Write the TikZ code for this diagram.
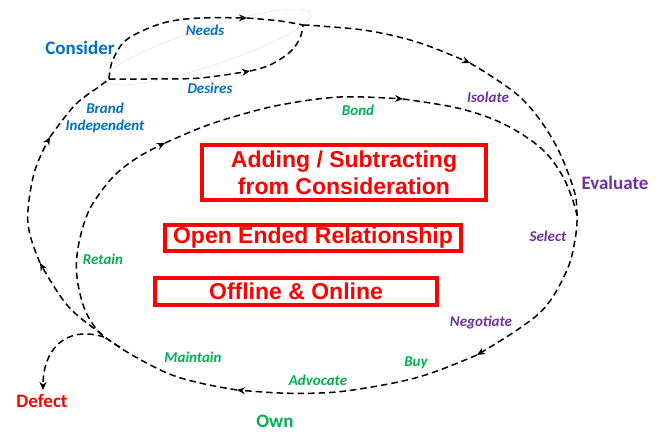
\documentclass[tikz,border=0pt]{standalone}
\usepackage{fontspec}
\setmainfont{Carlito}
\newfontfamily\boxfont{Liberation Sans}
\usetikzlibrary{arrows.meta,shapes.geometric}
\definecolor{cblue}{RGB}{0,112,192}
\definecolor{cpurple}{RGB}{112,48,160}
\definecolor{cgreen}{RGB}{0,176,80}
\definecolor{cred}{RGB}{255,0,0}
\begin{document}
\begin{tikzpicture}[x=1pt,y=-1pt,
  dline/.style={draw=black, line width=1.5pt, dash pattern=on 6.5pt off 4pt},
  arr/.style={-{Stealth[length=8pt,width=7pt]}},
  stage/.style={font=\fontsize{15}{17}\selectfont\bfseries\itshape, inner sep=0pt, align=center},
  phase/.style={font=\fontsize{19}{22}\selectfont\bfseries, inner sep=0pt},
  redbox/.style={draw=cred, line width=4pt, text=cred, font=\boxfont\fontsize{23}{27}\selectfont\bfseries, align=center, inner sep=0pt}]
\useasboundingbox (0,0) rectangle (666,431);

% faint ellipse around the consider loop
\node[ellipse, draw=gray!20, line width=0.6pt, minimum width=216pt, minimum height=38pt, rotate=18] (ell) at (208,47) {};

% key points
\coordinate (L) at (109,79);
\coordinate (R) at (303,25);
\coordinate (A1) at (247,18);
\coordinate (A2) at (250,71);
\coordinate (A3) at (470,63);
\coordinate (A4) at (477,355);
\coordinate (A5) at (237,390);
\coordinate (A6) at (40,263);
\coordinate (A7) at (50,137);
\coordinate (M) at (120,347);
\coordinate (B1) at (165,143);
\coordinate (B2) at (403,99);
\coordinate (E) at (577,215);
\coordinate (D0) at (104,337);
\coordinate (D1) at (43,390);

% consider loop
\draw[dline,arr] plot[smooth,tension=0.6] coordinates {(L) (112,62) (123,43) (140,32) (167,22) (200,18) (A1)};
\draw[dline] plot[smooth,tension=0.6] coordinates {(A1) (280,21) (R)};
\draw[dline,arr] plot[smooth,tension=0.6] coordinates {(L) (150,79) (200,78) (A2)};
\draw[dline] plot[smooth,tension=0.6] coordinates {(A2) (270,65) (290,52) (300,38) (R)};

% outer loop
\draw[dline,arr] plot[smooth,tension=0.6] coordinates {(R) (320,26) (370,31) (420,43) (A3)};
\draw[dline,arr] plot[smooth,tension=0.6] coordinates {(A3) (520,97) (553,140) (573,187) (577,213) (575,240) (567,270) (547,305) (520,328) (A4)};
\draw[dline,arr] plot[smooth,tension=0.6] coordinates {(A4) (437,371) (403,381) (353,390) (320,393) (280,393) (A5)};
\draw[dline,arr] plot[smooth,tension=0.6] coordinates {(A5) (200,383) (167,373) (127,352) (100,333) (67,305) (A6)};
\draw[dline,arr] plot[smooth,tension=0.6] coordinates {(A6) (30,235) (28,210) (35,170) (A7)};
\draw[dline] plot[smooth,tension=0.6] coordinates {(A7) (75,105) (100,86) (L)};

% inner loop
\draw[dline,arr] plot[smooth,tension=0.6] coordinates {(M) (100,333) (85,310) (77,277) (78,248) (87,215) (100,193) (117,173) (140,156) (B1)};
\draw[dline,arr] plot[smooth,tension=0.6] coordinates {(B1) (200,128) (233,117) (280,105) (340,97) (B2)};
\draw[dline] plot[smooth,tension=0.6] coordinates {(B2) (453,107) (490,118) (520,133) (545,152) (562,175) (572,198) (E)};

% defect branch
\draw[dline,arr] (D0) .. controls (65,325) and (43,350) .. (D1);

% phase labels
\node[phase, text=cblue] (consider) at (80,48) {Consider};
\node[phase, text=cpurple] (evaluate) at (615,183) {Evaluate};
\node[phase, text=cgreen] (own) at (275,421) {Own};
\node[phase, text=cred] (defect) at (42,401) {Defect};

% stage labels
\node[stage, text=cblue] (needs) at (205,30) {Needs};
\node[stage, text=cblue] (desires) at (210,88) {Desires};
\node[stage, text=cblue] (brand) at (105,118) {Brand\\Independent};
\node[stage, text=cpurple] (isolate) at (488,97) {Isolate};
\node[stage, text=cgreen] (bond) at (358,110) {Bond};
\node[stage, text=cpurple] (select) at (548,236) {Select};
\node[stage, text=cpurple] (negotiate) at (481,322) {Negotiate};
\node[stage, text=cgreen] (buy) at (416,363) {Buy};
\node[stage, text=cgreen] (advocate) at (318,380) {Advocate};
\node[stage, text=cgreen] (maintain) at (193,357) {Maintain};
\node[stage, text=cgreen] (retain) at (103,259) {Retain};

% red boxes
\node[redbox, minimum width=284pt, minimum height=55pt] (box1) at (344,172.5) {Adding / Subtracting\\from Consideration};
\node[redbox, minimum width=296pt, minimum height=26pt] (box2) at (313,238) {Open Ended Relationship};
\node[redbox, minimum width=282pt, minimum height=27pt] (box3) at (296,291.5) {Offline \& Online};
\end{tikzpicture}
\end{document}
